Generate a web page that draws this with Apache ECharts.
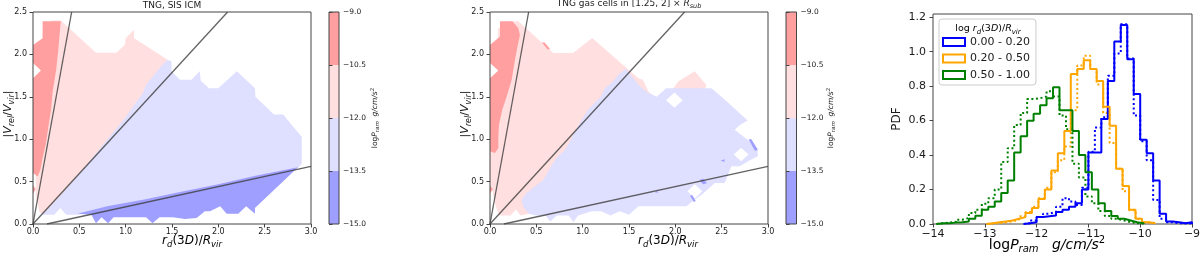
<!DOCTYPE html>
<html><head><meta charset="utf-8">
<script src="https://cdn.jsdelivr.net/npm/echarts@6/dist/echarts.min.js"></script>
<style>html,body{margin:0;padding:0;background:#fff}#c{width:1200px;height:259px}</style>
</head><body><div id="c"></div>
<script>
// ---------- data ----------
const cbarLevels = [-15, -13.5, -12, -10.5, -9];
const cbarColors = ['#9f9fff', '#dfdfff', '#ffdfdf', '#ff9f9f'];
const histYTicks = [0, 0.2, 0.4, 0.6, 0.8, 1.0, 1.2];

// guide lines (data units)
const guide1 = [[0, 0], [0.417, 2.5]];
const guide2 = [[0, 0], [2.1, 2.5]];
const guide3 = [[0.15, 0], [3.0, 0.68]];

// panel 1 contour regions
const p1Lavender = [[0.10,0.11],[0.23,0.11],[0.295,0.19],[0.36,0.11],[0.48,0.11],[1.0,0.2],[2.0,0.44],[2.86,0.66],[2.9,0.71],[2.9,1.03],[2.79,1.17],[2.7,1.29],[2.6,1.29],[2.4,1.5],[2.395,1.6],[2.2,1.8],[2.0,1.6],[1.9,1.6],[1.81,1.69],[1.8,1.8],[1.71,1.7],[1.585,1.7],[1.495,1.8],[1.495,1.92],[1.45,1.935],[1.3,1.9],[0.5,0.9],[0.08,0.2]];
const p1Pink = [[0.30,2.40],[0.68,2.02],[0.90,2.02],[0.99,2.11],[1.0,2.19],[1.09,2.29],[1.09,2.19],[1.45,1.94],[1.383,1.86],[1.293,1.74],[1.22,1.64],[1.185,1.545],[1.095,1.41],[0.987,1.24],[0.77,0.955],[0.537,0.64],[0.34,0.385],[0.158,0.17],[0.104,0.12],[0.07,0.14],[0.03,0.33],[0.03,0.58],[0.104,0.8],[0.104,2.3],[0.2,2.40]];
const p1Red = [[0.104,2.39],[0.30,2.39],[0.285,2.21],[0.27,2.02],[0.25,1.82],[0.21,1.545],[0.195,1.35],[0.166,1.15],[0.14,0.955],[0.104,0.78],[0.08,0.64],[0.05,0.56],[0,0.60],[0,1.72],[0.086,1.81],[0,1.90],[0,2.11],[0.104,2.19]];
const p1RedSpot = [[0,0.36],[0.03,0.41],[0,0.46]];
const p1Dark = [[0.48,0.12],[0.8,0.21],[1.2,0.29],[1.6,0.38],[2.0,0.47],[2.4,0.57],[2.86,0.67],[2.395,0.19],[2.395,0.12],[2.30,0.21],[2.215,0.12],[2.09,0.12],[2.02,0.21],[1.91,0.15],[1.855,0.15],[1.765,0.07],[1.64,0.06],[1.51,0.08],[1.365,0.08],[1.29,0.01],[1.22,0.08],[0.995,0.08],[0.87,0.08],[0.81,0.01],[0.74,0.08],[0.68,0.01],[0.63,0.11]];

// panel 2 contour regions
const p2Pink = [[0.24,2.39],[0.305,2.39],[0.683,2.017],[0.898,2.017],[1.103,2.193],[1.60,1.72],[1.65,1.70],[1.71,1.56],[1.80,1.48],[1.95,1.55],[2.03,1.68],[2.21,1.80],[2.335,1.64],[2.30,1.50],[2.0,1.0],[1.2,0.3],[0.6,0.12],[0.42,0.12],[0.33,0.10],[0.28,0.17],[0.22,0.10],[0.10,0.10],[0.05,0.25],[0.03,0.38],[0.0,0.5],[0.0,0.85],[0.085,0.95],[0.085,2.3],[0.2,2.39]];
const p2Lavender = [[0.341,0.287],[0.395,0.366],[0.485,0.444],[0.575,0.52],[0.647,0.66],[0.72,0.78],[0.81,0.877],[0.862,0.97],[0.916,1.09],[0.99,1.23],[1.06,1.35],[1.13,1.43],[1.20,1.505],[1.24,1.60],[1.33,1.68],[1.383,1.76],[1.465,1.83],[1.62,1.62],[1.70,1.55],[1.80,1.50],[1.90,1.60],[2.39,1.60],[2.55,1.45],[2.70,1.30],[2.78,1.22],[2.70,1.17],[2.64,1.11],[2.80,0.975],[2.89,0.877],[2.89,0.80],[2.80,0.75],[2.695,0.68],[2.605,0.68],[2.533,0.483],[2.425,0.483],[2.30,0.36],[2.20,0.28],[2.12,0.21],[1.60,0.21],[1.50,0.11],[1.40,0.15],[1.30,0.10],[1.20,0.15],[1.10,0.15],[0.95,0.10],[0.90,0.02],[0.85,0.10],[0.72,0.10],[0.65,0.03],[0.60,0.10],[0.50,0.10],[0.42,0.12],[0.36,0.20]];
const p2Red = [[0.108,2.39],[0.241,2.39],[0.305,2.31],[0.323,2.23],[0.298,2.10],[0.27,1.94],[0.234,1.70],[0.18,1.505],[0.133,1.35],[0.097,1.17],[0.09,1.03],[0.09,0.896],[0.054,0.837],[0,0.857],[0,1.72],[0.09,1.81],[0,1.90],[0,2.11],[0.108,2.21]];
const p2RedSpot = [[0,0.36],[0.03,0.41],[0,0.46]];
const p2RedTick = [[0.56,2.14],[0.59,2.14],[0.65,2.06],[0.62,2.06]];
const p2Hole1 = [[1.90,1.46],[1.99,1.55],[2.08,1.46],[1.99,1.37]];
const p2Hole2 = [[2.63,0.82],[2.71,0.90],[2.79,0.82],[2.71,0.74]];
const p2Hole3 = [[2.13,0.385],[2.21,0.47],[2.29,0.385],[2.21,0.30]];
const p2Dark1 = [[2.79,1.0],[2.82,1.0],[2.89,0.88],[2.86,0.86]];
const p2Dark2 = [[2.26,0.52],[2.30,0.535],[2.34,0.48],[2.30,0.47]];
const p2Dark3 = [[2.16,0.33],[2.18,0.345],[2.22,0.27],[2.20,0.26]];
const p2Dark4 = [[2.49,0.75],[2.53,0.765],[2.53,0.73]];
const p2Dark5 = [[1.78,0.37],[1.80,0.39],[1.82,0.37]];

// histograms (bin width 0.125)
const binWidth = 0.125;
const blueStart = -12.25;
const blueSolid  = [0.005,0.01,0.04,0.045,0.05,0.07,0.083,0.10,0.12,0.20,0.415,0.415,0.61,0.83,1.06,1.155,0.957,0.755,0.489,0.41,0.253,0.06,0.015,0.01,0.005,0.01];
const blueDotted = [0.005,0.02,0.04,0.06,0.07,0.10,0.15,0.13,0.11,0.21,0.42,0.56,0.62,0.86,0.99,1.16,0.96,0.63,0.48,0.37,0.14,0.03,0.01,0.005,0.005,0.003];
const orangeStart = -12.965;
const orangeSolid  = [0.005,0.01,0.015,0.02,0.03,0.04,0.064,0.093,0.145,0.20,0.31,0.41,0.54,0.87,0.90,0.95,0.90,0.83,0.68,0.57,0.32,0.22,0.083,0.03,0.01,0.005];
const orangeDotted = [0.003,0.005,0.01,0.015,0.025,0.045,0.07,0.10,0.15,0.21,0.30,0.37,0.45,0.66,0.92,0.976,0.90,0.81,0.645,0.47,0.32,0.19,0.08,0.03,0.01,0.005];
const greenStart = -13.933;
const greenSolid  = [0.005,0.005,0.008,0.01,0.015,0.03,0.048,0.083,0.10,0.13,0.18,0.253,0.415,0.51,0.60,0.64,0.69,0.73,0.794,0.66,0.66,0.54,0.40,0.30,0.20,0.12,0.075,0.046,0.03,0.02,0.01,0.005];
const greenDotted = [0.005,0.008,0.013,0.025,0.035,0.064,0.083,0.117,0.15,0.2,0.36,0.44,0.575,0.645,0.725,0.73,0.74,0.77,0.74,0.63,0.55,0.35,0.27,0.16,0.12,0.075,0.046,0.03,0.02,0.01,0.005,0.003];
const legendNames = ['0.00 - 0.20', '0.20 - 0.50', '0.50 - 1.00'];
const histColors = ['#0000ff', '#ffa500', '#008000'];

// ---------- chart ----------
const FONT = 'DejaVu Sans';
const TXT = '#1a1a1a';
const AX = '#444';
const C_RED = cbarColors[3], C_PINK = cbarColors[2], C_LAV = cbarColors[1], C_DARK = cbarColors[0];

function mkRich(fs, lh) {
  const s = Math.round(fs * 0.72 * 2) / 2;
  const base = {fontFamily: FONT, fontWeight: 'normal', color: TXT};
  return {
    n: Object.assign({fontSize: fs, lineHeight: lh}, base),
    i: Object.assign({fontSize: fs, lineHeight: lh, fontStyle: 'italic'}, base),
    s: Object.assign({fontSize: s, lineHeight: s, fontStyle: 'italic', verticalAlign: 'bottom'}, base),
    p: Object.assign({fontSize: s, lineHeight: s, verticalAlign: 'top'}, base)
  };
}
const pramName = '{n|log}{i|P}{s|ram}{n|  }{i|g/cm/s}{p|2}';
const pramNameWide = '{n|log}{i|P}{s|ram}{n|   }{i|g/cm/s}{p|2}';
const fmtMinus = (v, d) => (v < 0 ? '\u2212' : '') + (d == null ? String(Math.abs(v)) : Math.abs(v).toFixed(d));

function polySeries(xi, yi, polys, z) {
  return {
    type: 'custom', xAxisIndex: xi, yAxisIndex: yi, clip: true, silent: true, z: z,
    data: polys.map((p, i) => ({value: [0, 0, i]})),
    renderItem: (params, api) => {
      const p = polys[params.dataIndex];
      return {type: 'polygon', shape: {points: p.pts.map(q => api.coord(q))}, style: {fill: p.color}};
    }
  };
}
function guideSeries(xi, yi, pts) {
  return {type: 'line', xAxisIndex: xi, yAxisIndex: yi, data: pts, showSymbol: false, silent: true, z: -1,
    lineStyle: {color: 'rgba(60,60,60,0.8)', width: 1.3}, clip: true};
}
function cbarSeries(xi, yi) {
  return {
    type: 'custom', xAxisIndex: xi, yAxisIndex: yi, silent: true, z: -2,
    data: cbarColors.map((c, i) => ({value: [0, cbarLevels[i], i]})),
    renderItem: (params, api) => {
      const i = params.dataIndex;
      const a = api.coord([0, cbarLevels[i]]);
      const b = api.coord([1, cbarLevels[i + 1]]);
      return {type: 'rect', shape: {x: a[0], y: b[1], width: b[0] - a[0], height: a[1] - b[1]}, style: {fill: cbarColors[i]}};
    }
  };
}
function stepPoints(start, vals) {
  const pts = [[start, 0]];
  vals.forEach((v, i) => { pts.push([start + i * binWidth, v]); pts.push([start + (i + 1) * binWidth, v]); });
  pts.push([start + vals.length * binWidth, 0]);
  return pts;
}
function histSeries(name, start, vals, color, dotted) {
  return {type: 'line', name: name, xAxisIndex: 4, yAxisIndex: 4, data: stepPoints(start, vals), showSymbol: false,
    silent: true, clip: true, z: dotted ? 3 : 4,
    lineStyle: {color: color, width: 2, type: dotted ? [2, 2.6] : 'solid', cap: 'butt'}, itemStyle: {color: color}};
}

const panelXName = '{i|r}{s|d}{n|(3}{i|D}{n|)/}{i|R}{s|vir}';
const panelYName = '{n||}{i|V}{s|rel}{n|/}{i|V}{s|vir}{n||}';

function panelX(gi) {
  return {gridIndex: gi, type: 'value', min: 0, max: 3, interval: 0.5,
    axisLine: {show: false}, splitLine: {show: false},
    axisTick: {show: true, length: 3.5, lineStyle: {color: AX}},
    axisLabel: {formatter: v => v.toFixed(1), fontSize: 8, fontFamily: FONT, color: TXT, margin: 4}};
}
function panelY(gi) {
  return {gridIndex: gi, type: 'value', min: 0, max: 2.5, interval: 0.5,
    axisLine: {show: false}, splitLine: {show: false},
    axisTick: {show: true, length: 3.5, lineStyle: {color: AX}},
    axisLabel: {formatter: v => v.toFixed(1), fontSize: 8, fontFamily: FONT, color: TXT, margin: 6},
    name: panelYName, nameLocation: 'middle', nameRotate: 90, nameGap: 17, nameMoveOverlap: false,
    nameTextStyle: {rich: mkRich(11, 15), padding: [0, 0, 0, 8]}};
}
function cbarX(gi) { return {gridIndex: gi, type: 'value', min: 0, max: 1, show: false}; }
function cbarY(gi, gap) {
  return {gridIndex: gi, type: 'value', position: 'right', min: -15, max: -9, interval: 1.5,
    axisLine: {show: false}, splitLine: {show: false},
    axisTick: {show: true, length: 3.5, lineStyle: {color: AX}},
    axisLabel: {formatter: v => fmtMinus(v, 1), fontSize: 7.5, fontFamily: FONT, color: TXT, margin: 4},
    name: pramName, nameLocation: 'middle', nameRotate: 90, nameGap: gap, nameMoveOverlap: false,
    nameTextStyle: {rich: mkRich(7.5, 11)}};
}

const p1Polys = [
  {pts: p1Lavender, color: C_LAV}, {pts: p1Pink, color: C_PINK}, {pts: p1Red, color: C_RED},
  {pts: p1RedSpot, color: C_RED}, {pts: p1Dark, color: C_DARK}
];
const p2Polys = [
  {pts: p2Pink, color: C_PINK}, {pts: p2Lavender, color: C_LAV}, {pts: p2Red, color: C_RED},
  {pts: p2RedSpot, color: C_RED}, {pts: p2RedTick, color: C_RED},
  {pts: p2Hole1, color: '#ffffff'}, {pts: p2Hole2, color: '#ffffff'}, {pts: p2Hole3, color: '#ffffff'},
  {pts: p2Dark1, color: C_DARK}, {pts: p2Dark2, color: C_DARK}, {pts: p2Dark3, color: C_DARK},
  {pts: p2Dark4, color: C_DARK}, {pts: p2Dark5, color: C_DARK}
];

const gridBase = {show: true, borderColor: AX, borderWidth: 1, backgroundColor: 'rgba(0,0,0,0)', outerBoundsMode: 'none', containLabel: false};
const option = {
  animation: false,
  backgroundColor: '#fff',
  title: [
    {text: 'TNG, SIS ICM', left: 172, top: 0, padding: 0, textAlign: 'center',
      textStyle: {fontSize: 9, fontWeight: 'normal', fontFamily: FONT, color: TXT, lineHeight: 11}},
    {text: '{n|TNG gas cells in [1.25, 2] \u00d7 }{i|R}{s|sub}', left: 629, top: -3, padding: 0, textAlign: 'center',
      textStyle: {fontWeight: 'normal', rich: mkRich(9, 13)}}
  ],
  grid: [
    Object.assign({left: 33, top: 12, width: 278, height: 212}, gridBase),
    Object.assign({left: 329, top: 12, width: 10, height: 212}, gridBase),
    Object.assign({left: 490, top: 12, width: 278, height: 212}, gridBase),
    Object.assign({left: 786, top: 12, width: 10.5, height: 212}, gridBase),
    Object.assign({left: 933, top: 14, width: 259, height: 210}, gridBase)
  ],
  xAxis: [
    panelX(0), cbarX(1), panelX(2), cbarX(3),
    {gridIndex: 4, type: 'value', min: -14, max: -9, interval: 1,
      axisLine: {show: false}, splitLine: {show: false},
      axisTick: {show: true, length: 3.5, lineStyle: {color: AX}},
      axisLabel: {formatter: v => fmtMinus(v), fontSize: 11, fontFamily: FONT, color: TXT, margin: 5}}
  ],
  yAxis: [
    panelY(0), cbarY(1, 31), panelY(2), cbarY(3, 29),
    {gridIndex: 4, type: 'value', min: 0, max: 1.219,
      axisLine: {show: false}, splitLine: {show: false},
      axisTick: {show: true, length: 3.5, lineStyle: {color: AX}, customValues: histYTicks},
      axisLabel: {formatter: v => v.toFixed(1), fontSize: 11, fontFamily: FONT, color: TXT, margin: 7, customValues: histYTicks},
      name: 'PDF', nameLocation: 'middle', nameRotate: 90, nameGap: 29, nameMoveOverlap: false,
      nameTextStyle: {fontSize: 12, fontFamily: FONT, color: TXT, lineHeight: 14}}
  ],
  legend: {
    left: 939, top: 19, orient: 'vertical',
    data: legendNames.map((n, i) => ({name: n, icon: 'rect',
      itemStyle: {color: 'rgba(255,255,255,0)', borderColor: histColors[i], borderWidth: 2}})),
    itemWidth: 22, itemHeight: 8, itemGap: 2.5,
    padding: [16, 6, 3, 3],
    borderColor: '#cccccc', borderWidth: 1, borderRadius: 3,
    backgroundColor: 'rgba(255,255,255,0.8)',
    textStyle: {fontSize: 11, fontFamily: FONT, color: TXT, lineHeight: 14},
    selectedMode: false
  },
  graphic: [
    {type: 'text', x: 988, y: 29, z: 100, silent: true,
      style: {text: '{n|log }{i|r}{s|d}{n|(3}{i|D}{n|)/}{i|R}{s|vir}', rich: mkRich(9.5, 14), align: 'center', verticalAlign: 'middle'}},
    {type: 'text', x: 192, y: 241, z: 100, silent: true,
      style: {text: panelXName, rich: mkRich(12, 16), align: 'center', verticalAlign: 'middle'}},
    {type: 'text', x: 668, y: 241, z: 100, silent: true,
      style: {text: panelXName, rich: mkRich(12, 16), align: 'center', verticalAlign: 'middle'}},
    {type: 'text', x: 1047, y: 245, z: 100, silent: true,
      style: {text: pramNameWide, rich: mkRich(14, 19), align: 'center', verticalAlign: 'middle'}}
  ],
  series: [
    polySeries(0, 0, p1Polys, -2),
    guideSeries(0, 0, guide1), guideSeries(0, 0, guide2), guideSeries(0, 0, guide3),
    cbarSeries(1, 1),
    polySeries(2, 2, p2Polys, -2),
    guideSeries(2, 2, guide1), guideSeries(2, 2, guide2), guideSeries(2, 2, guide3),
    cbarSeries(3, 3),
    histSeries(legendNames[0], blueStart, blueSolid, histColors[0], false),
    histSeries(legendNames[0] + ' dotted', blueStart, blueDotted, histColors[0], true),
    histSeries(legendNames[1], orangeStart, orangeSolid, histColors[1], false),
    histSeries(legendNames[1] + ' dotted', orangeStart, orangeDotted, histColors[1], true),
    histSeries(legendNames[2], greenStart, greenSolid, histColors[2], false),
    histSeries(legendNames[2] + ' dotted', greenStart, greenDotted, histColors[2], true)
  ]
};
const chart = echarts.init(document.getElementById('c'), null, {renderer: 'canvas'});
chart.setOption(option);
</script></body></html>
